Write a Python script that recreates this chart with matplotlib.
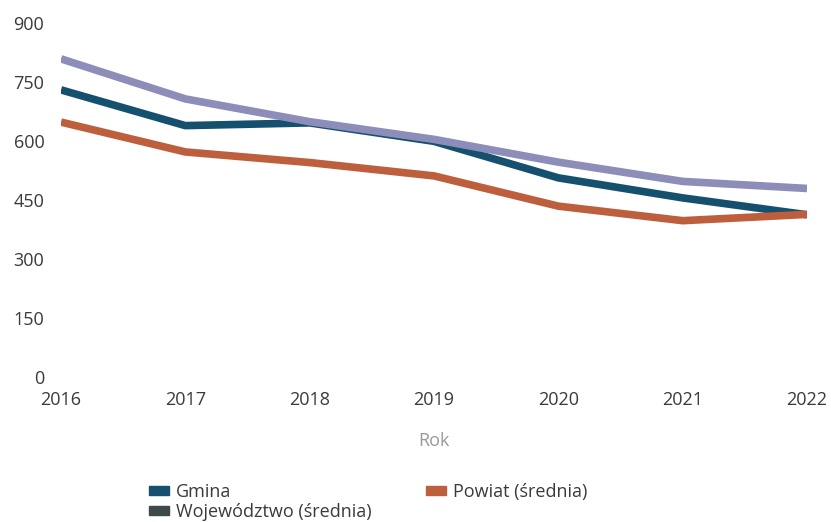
import matplotlib
matplotlib.use("Agg")
import matplotlib.pyplot as plt
from matplotlib.patches import Patch

years = [2016, 2017, 2018, 2019, 2020, 2021, 2022]
gmina = [731, 640, 647, 600, 507, 456, 413]
powiat = [649, 573, 546, 512, 435, 398, 414]
wojewodztwo = [810, 708, 650, 605, 547, 498, 480]
yticks = [0, 150, 300, 450, 600, 750, 900]

c_gmina = "#16506f"
c_powiat = "#bd5f3d"
c_woj = "#8c8db8"
c_woj_leg = "#3d4a47"
txt = "#3a3a3a"

plt.rcParams['font.family'] = ['Open Sans', 'DejaVu Sans']

fig = plt.figure(figsize=(8.31, 5.22), dpi=100)
ax = fig.add_axes([61 / 831, 1 - 377 / 522, (807 - 61) / 831, (377 - 23.5) / 522])

ax.plot(years, gmina, color=c_gmina, lw=5.5, solid_capstyle="butt")
ax.plot(years, powiat, color=c_powiat, lw=5.5, solid_capstyle="butt")
ax.plot(years, wojewodztwo, color=c_woj, lw=5.5, solid_capstyle="butt")

ax.set_xlim(2016, 2022)
ax.set_ylim(0, 900)
ax.set_yticks(yticks)
ax.set_xticks(years)
for s in ax.spines.values():
    s.set_visible(False)
ax.tick_params(axis="both", length=0, labelsize=13, colors=txt)
ax.tick_params(axis="y", pad=12)
ax.tick_params(axis="x", pad=10)
ax.set_xlabel("Rok", fontsize=13, color="#999999", labelpad=17)

handles = [
    Patch(color=c_gmina, label="Gmina"),
    Patch(color=c_woj_leg, label="Województwo (średnia)"),
    Patch(color=c_powiat, label="Powiat (średnia)"),
]
fig.legend(handles=handles, loc="upper left", bbox_to_anchor=(140 / 831, 1 - 474 / 522),
           ncol=2, frameon=False, fontsize=13, handlelength=1.1, handleheight=0.45,
           handletextpad=0.4, columnspacing=3.0, labelspacing=0.1, labelcolor=txt,
           borderpad=0)

fig.savefig("out.png", dpi=100)
